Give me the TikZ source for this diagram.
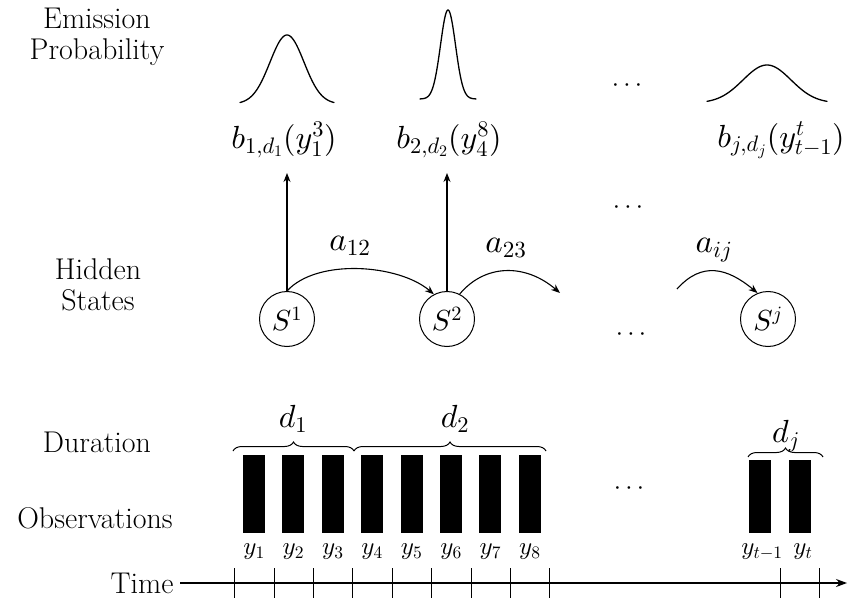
\documentclass[tikz,border=0pt]{standalone}
\usepackage{fontspec}
\usetikzlibrary{arrows.meta,decorations.pathreplacing}
% scalable Computer Modern math at every size
\DeclareFontShape{OML}{cmm}{m}{it}{<->cmmi10}{}
\DeclareFontShape{OT1}{cmr}{m}{n}{<->cmr10}{}
\DeclareFontShape{OMS}{cmsy}{m}{n}{<->cmsy10}{}
\begin{document}
\begin{tikzpicture}[x=1pt,y=-1pt,
  lbl/.style={font=\fontsize{30}{31}\selectfont\addfontfeatures{LetterSpace=7}, align=center},
  mth/.style={font=\fontsize{32}{36}\selectfont, inner sep=0pt},
  amth/.style={font=\fontsize{33}{36}\selectfont, inner sep=0pt},
  obslbl/.style={font=\fontsize{25}{30}\selectfont, inner sep=0pt},
  state/.style={draw, line width=1pt, circle, minimum size=55pt, inner sep=0pt, font=\fontsize{29}{34}\selectfont},
  bar/.style={fill=black, minimum width=22pt, inner sep=0pt, draw=none},
  arr/.style={line width=1.1pt, -{Stealth[length=9pt,width=7pt]}},
  curve/.style={line width=1.3pt, line cap=round},
  tick/.style={line width=0.8pt},
  brc/.style={line width=1pt, decorate, decoration={brace, amplitude=9pt}},
  dots/.style={font=\fontsize{26}{30}\selectfont, inner sep=0pt}]
\useasboundingbox (0,0) rectangle (848,604);

% row labels
\node[lbl] (lem) at (97,37) {Emission\\Probability};
\node[lbl] (lhid) at (98,285) {Hidden\\States};
\node[lbl] (ldur) at (97,442) {Duration};
\node[lbl] (lobs) at (95,518) {Observations};
\node[lbl] (ltime) at (142,583) {Time};

% emission densities
\draw[curve] plot[domain=-47:47, samples=80] ({287+\x}, {104-69*exp(-(\x)*(\x)/(2*17*17))});
\draw[curve] plot[domain=-28:28, samples=80] ({448+\x}, {99-89*exp(-(\x)*(\x)/(2*7.5*7.5))});
\draw[curve] plot[domain=-60:60, samples=80] ({767+\x}, {103-38*exp(-(\x)*(\x)/(2*24*24))});

% emission terms
\node[mth] (b1) at (284,140) {$b_{1,d_1}(y_1^3)$};
\node[mth] (b2) at (449,140) {$b_{2,d_2}(y_4^8)$};
\node[mth] (bj) at (781,140) {$b_{j,d_j}(y_{t-1}^t)$};

% ellipses
\node[dots] (dA) at (627,86) {$\cdots$};
\node[dots] (dB) at (628,208) {$\cdots$};
\node[dots] (dC) at (631,335) {$\cdots$};
\node[dots] (dD) at (629,489) {$\cdots$};

% hidden states
\node[state] (s1) at (287,319) {$S^1$};
\node[state] (s2) at (447,319) {$S^2$};
\node[state] (sj) at (768,319) {$S^j$};

% emission arrows
\coordinate (e1) at (287,173);
\coordinate (e2) at (447,173);
\draw[arr] (s1.north) -- (e1);
\draw[arr] (s2.north) -- (e2);

% transitions
\coordinate (t23) at (560,293);
\coordinate (tij) at (677,289);
\draw[arr] (s1.north) .. controls +(30,-33) and +(-35,-30) .. (s2.118);
\draw[arr] (s2.63) .. controls +(25,-30) and +(-35,-30) .. (t23);
\draw[arr] (tij) .. controls +(25,-28) and +(-30,-25) .. (sj.112);
\node[amth] (a12) at (350,246) {$a_{12}$};
\node[amth] (a23) at (506,248) {$a_{23}$};
\node[amth] (aij) at (714,250) {$a_{ij}$};

% observations
\foreach \k in {1,...,8} {
  \node[bar, minimum height=78pt] (o\k) at ({254+39.4*(\k-1)},494) {};
  \node[obslbl] (y\k) at ({254+39.4*(\k-1)},552) {$y_{\k}$};
}
\node[bar, minimum height=73pt] (otm) at (760,496.5) {};
\node[bar, minimum height=73pt] (ot) at (800,496.5) {};
\node[obslbl] (ytm) at (762,552) {$y_{t-1}$};
\node[obslbl] (yt) at (803,552) {$y_t$};

% durations
\coordinate (br0) at (233,451);
\coordinate (br1) at (354,451);
\coordinate (br2) at (546,451);
\coordinate (br3) at (748,457);
\coordinate (br4) at (823,457);
\draw[brc] (br0) -- (br1);
\draw[brc] (br1) -- (br2);
\draw[brc] (br3) -- (br4);
\node[mth] (d1) at (293,419) {$d_1$};
\node[mth] (d2) at (455,419) {$d_2$};
\node[mth] (dj) at (786,436) {$d_j$};

% time axis
\coordinate (ta) at (180,583);
\coordinate (tb) at (847,583);
\draw[line width=1.1pt, -{Stealth[length=11pt,width=8pt]}] (ta) -- (tb);
\foreach \k in {0,...,8} {
  \draw[tick] ({234.5+39.4*\k},568) -- ({234.5+39.4*\k},598);
}
\draw[tick] (780,568) -- (780,598);
\draw[tick] (819,568) -- (819,598);
\end{tikzpicture}
\end{document}
